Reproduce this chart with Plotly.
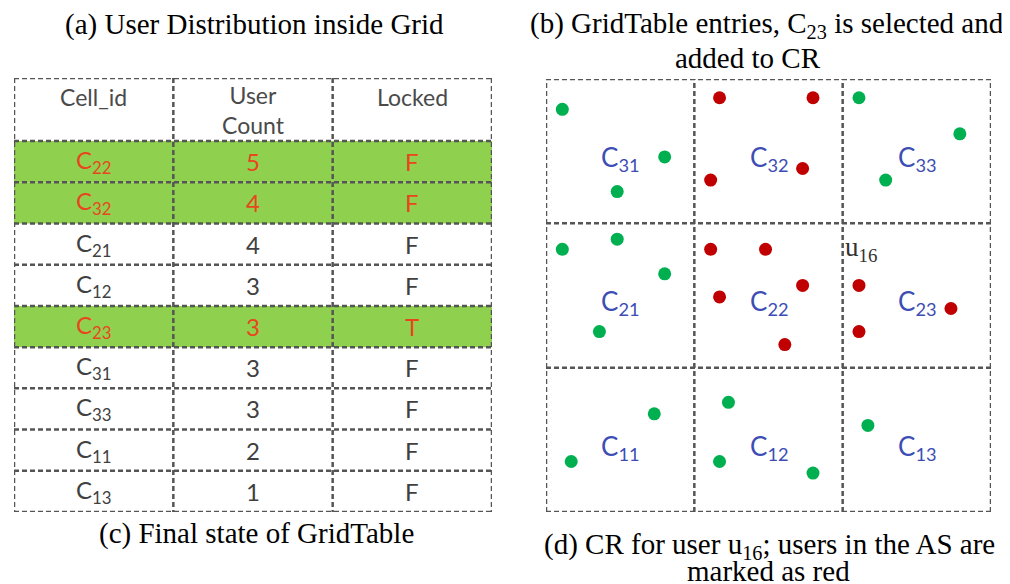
import plotly.graph_objects as go

# ---------------- data ----------------
# GridTable rows (final state)
table_cell_ids = ["22", "32", "21", "12", "23", "31", "33", "11", "13"]
table_counts = [5, 4, 4, 3, 3, 3, 3, 2, 1]
table_locked = ["F", "F", "F", "F", "T", "F", "F", "F", "F"]
table_selected = [True, True, False, False, True, False, False, False, False]
table_headers = ["Cell_id", "User<br>Count", "Locked"]

# Grid cells: label ids by (row from bottom, column)
grid_rows = [3, 2, 1]
grid_cols = [1, 2, 3]

# users (grid coordinates: column units left->right, row units bottom->top)
green_x = [0.11, 0.80, 0.48, 2.11, 2.79, 2.29, 0.11, 0.48, 0.80, 0.36,
           0.73, 0.17, 1.23, 1.17, 1.80, 2.17]
green_y = [2.79, 2.46, 2.22, 2.87, 2.62, 2.30, 1.82, 1.89, 1.65, 1.25,
           0.68, 0.35, 0.76, 0.35, 0.27, 0.60]
red_x = [1.17, 1.80, 1.73, 1.11, 1.11, 1.48, 1.73, 1.17, 1.61, 2.11, 2.73, 2.11]
red_y = [2.87, 2.87, 2.38, 2.30, 1.82, 1.82, 1.57, 1.49, 1.16, 1.57, 1.41, 1.25]

u16_pos = (2.0, 1.82)

# ---------------- styles ----------------
OFF = 8            # page body margin
W, H = 1002, 576   # figure size
SERIF = "Liberation Serif, Times New Roman, serif"
SANS = "Lato, Carlito, Calibri, sans-serif"
DASH = "5px,3px"
LINE_COLOR = "#555555"
LINE_W = 2.5
FILL_GREEN = "#8fd14f"
TEXT_RED = "#e8461e"
TEXT_GRAY = "#404040"
HEAD_GRAY = "#4a4a4a"
LABEL_BLUE = "#3c4db4"
DOT_GREEN = "#00b050"
DOT_RED = "#c00000"

HEADER_H = 1.53  # header height in row units


def px(xp):
    return (xp - OFF) / W


def py(yp):
    return 1 - (yp - OFF) / H


fig = go.Figure()

# users
fig.add_trace(go.Scatter(x=green_x, y=green_y, mode="markers",
                         marker=dict(color=DOT_GREEN, size=13), hoverinfo="skip",
                         showlegend=False, xaxis="x", yaxis="y"))
fig.add_trace(go.Scatter(x=red_x, y=red_y, mode="markers",
                         marker=dict(color=DOT_RED, size=13), hoverinfo="skip",
                         showlegend=False, xaxis="x", yaxis="y"))
# invisible anchor trace for table axes
fig.add_trace(go.Scatter(x=[0, 3], y=[0, 9], mode="markers", marker=dict(opacity=0),
                         hoverinfo="skip", showlegend=False, xaxis="x2", yaxis="y2"))

shapes = []
annotations = []
dline = dict(color=LINE_COLOR, width=LINE_W, dash=DASH)

# ---- grid (right) ----
for v in range(4):
    shapes.append(dict(type="line", xref="x", yref="y", x0=v, x1=v, y0=0, y1=3, line=dline))
    shapes.append(dict(type="line", xref="x", yref="y", x0=0, x1=3, y0=v, y1=v, line=dline))
for r in grid_rows:
    for c in grid_cols:
        annotations.append(dict(xref="x", yref="y", x=c - 0.5, y=r - 0.5 - 0.05,
                                text=f"C<sub>{r}{c}</sub>", showarrow=False,
                                font=dict(family=SANS, size=26, color=LABEL_BLUE)))
annotations.append(dict(xref="x", yref="y", x=u16_pos[0], y=u16_pos[1], xanchor="left",
                        text="u<sub>16</sub>", showarrow=False,
                        font=dict(family=SERIF, size=27, color="#333333")))

# ---- table (left) ----
n = len(table_cell_ids)
for i, sel in enumerate(table_selected):
    if sel:
        shapes.append(dict(type="rect", xref="x2", yref="y2", x0=0, x1=3, y0=i, y1=i + 1,
                           fillcolor=FILL_GREEN, line=dict(width=0), layer="below"))
for b in [-HEADER_H] + list(range(n + 1)):
    shapes.append(dict(type="line", xref="x2", yref="y2", x0=0, x1=3, y0=b, y1=b, line=dline))
for v in range(4):
    shapes.append(dict(type="line", xref="x2", yref="y2", x0=v, x1=v,
                       y0=-HEADER_H, y1=n, line=dline))

header_y = [-1.07, -0.75, -1.07]
for j, h in enumerate(table_headers):
    annotations.append(dict(xref="x2", yref="y2", x=j + 0.5, y=header_y[j], text=h,
                            showarrow=False,
                            font=dict(family=SANS, size=23, color=HEAD_GRAY)))
for i in range(n):
    col = TEXT_RED if table_selected[i] else TEXT_GRAY
    vals = [f"C<sub>{table_cell_ids[i]}</sub>", str(table_counts[i]), table_locked[i]]
    for j, t in enumerate(vals):
        annotations.append(dict(xref="x2", yref="y2", x=j + 0.5, y=i + 0.5, text=t,
                                showarrow=False,
                                font=dict(family=SANS, size=24, color=col)))

# ---- captions (page pixel centres) ----
captions = [
    ("(a) User Distribution inside Grid", 254, 25),
    ("(b) GridTable entries, C<sub>23</sub> is selected and", 767, 25),
    ("added to CR", 748, 58),
    ("(c) Final state of GridTable", 256, 533),
    ("(d) CR for user u<sub>16</sub>; users in the AS are", 769, 546),
    ("marked as red", 768, 571),
]
for txt, cx, cy in captions:
    annotations.append(dict(xref="paper", yref="paper", x=px(cx), y=py(cy), text=txt,
                            showarrow=False, xanchor="center", yanchor="middle",
                            font=dict(family=SERIF, size=29, color="#000000")))

hidden = dict(visible=False, showgrid=False, zeroline=False, fixedrange=True)
fig.update_layout(
    width=W, height=H,
    margin=dict(l=0, r=0, t=0, b=0),
    paper_bgcolor="white", plot_bgcolor="rgba(0,0,0,0)",
    xaxis=dict(domain=[px(546), px(991)], range=[0, 3], **hidden),
    yaxis=dict(domain=[py(512), py(79)], range=[0, 3], **hidden),
    xaxis2=dict(domain=[px(14), px(492)], range=[0, 3], anchor="y2", **hidden),
    yaxis2=dict(domain=[py(512), py(78)], range=[n, -HEADER_H], anchor="x2", **hidden),
    shapes=shapes,
    annotations=annotations,
)

fig.write_html("out.html")
